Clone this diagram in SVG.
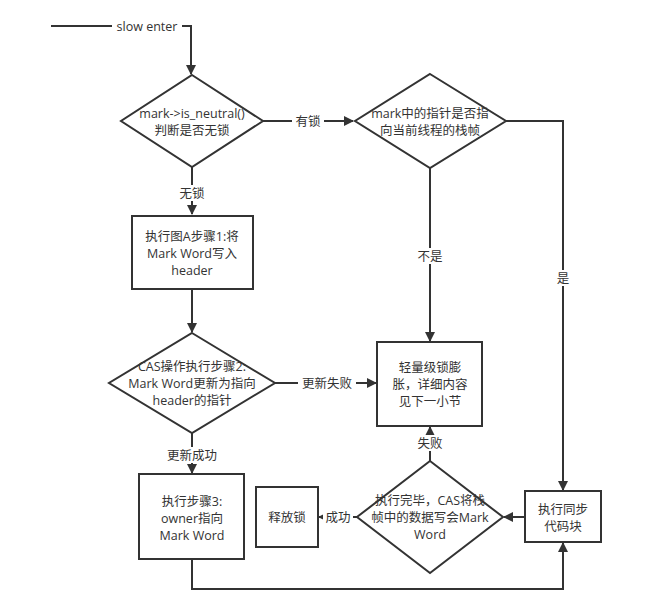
<svg xmlns="http://www.w3.org/2000/svg" width="661" height="616" viewBox="0 0 661 616">
<style>
.s{fill:#fff;stroke:#333;stroke-width:2}
.l{fill:none;stroke:#333;stroke-width:2}
text{font-family:"Open Sans","Noto Sans CJK SC",sans-serif;font-size:12.5px;fill:#333;text-anchor:middle;dominant-baseline:central}
.bg{fill:#fff}
</style>
<defs>
<marker id="a" viewBox="0 0 10 10" refX="9" refY="5" markerWidth="5" markerHeight="5" orient="auto" markerUnits="strokeWidth"><path d="M0,0 L10,5 L0,10 Z" fill="#333"/></marker>
</defs>
<rect width="661" height="616" fill="#fff"/>
<g id="connectors">
<path class="l" d="M51,26 H191 V74" marker-end="url(#a)"/>
<rect class="bg" x="112" y="18" width="70" height="16"/>
<text x="147" y="26">slow enter</text>
<path class="l" d="M263,121 H353" marker-end="url(#a)"/>
<rect class="bg" x="292" y="113" width="32" height="16"/>
<text x="308" y="121">有锁</text>
<path class="l" d="M192,167 V214" marker-end="url(#a)"/>
<rect class="bg" x="176" y="185" width="32" height="16"/>
<text x="192" y="193">无锁</text>
<path class="l" d="M192,289 V332" marker-end="url(#a)"/>
<path class="l" d="M275,383 H376" marker-end="url(#a)"/>
<rect class="bg" x="298" y="375" width="58" height="16"/>
<text x="327" y="383">更新失败</text>
<path class="l" d="M430,168 V341" marker-end="url(#a)"/>
<rect class="bg" x="414" y="248" width="32" height="16"/>
<text x="430" y="256">不是</text>
<path class="l" d="M506,121 H563 V490" marker-end="url(#a)"/>
<rect class="bg" x="552" y="270" width="22" height="16"/>
<text x="563" y="278">是</text>
<path class="l" d="M192,433 V473" marker-end="url(#a)"/>
<rect class="bg" x="163" y="447" width="58" height="16"/>
<text x="192" y="455">更新成功</text>
<path class="l" d="M525,517 H504" marker-end="url(#a)"/>
<path class="l" d="M430,461 V427" marker-end="url(#a)"/>
<rect class="bg" x="414" y="435" width="32" height="16"/>
<text x="430" y="443">失败</text>
<path class="l" d="M357,517 H319" marker-end="url(#a)"/>
<rect class="bg" x="323" y="509" width="30" height="16"/>
<text x="338" y="517">成功</text>
<path class="l" d="M192,559 V589 H563 V543" marker-end="url(#a)"/>
</g>
<g id="n1"><polygon class="s" points="192,75 263,121 192,167 121,121"/>
<text x="192" y="113">mark-&gt;is_neutral()</text><text x="192" y="130">判断是否无锁</text></g>
<g id="n2"><polygon class="s" points="430,74 506,121 430,168 355,121"/>
<text x="430" y="113">mark中的指针是否指</text><text x="430" y="130">向当前线程的栈帧</text></g>
<g id="n3"><rect class="s" x="132" y="216" width="121" height="73"/>
<text x="192" y="236">执行图A步骤1:将</text><text x="192" y="253">Mark Word写入</text><text x="192" y="270">header</text></g>
<g id="n4"><polygon class="s" points="192,333 275,383 192,433 109,383"/>
<text x="192" y="366">CAS操作执行步骤2:</text><text x="192" y="383">Mark Word更新为指向</text><text x="192" y="400">header的指针</text></g>
<g id="n5"><rect class="s" x="377" y="342" width="105" height="84"/>
<text x="430" y="367">轻量级锁膨</text><text x="430" y="384">胀，详细内容</text><text x="430" y="401">见下一小节</text></g>
<g id="n6"><rect class="s" x="525" y="491" width="76" height="51"/>
<text x="563" y="509">执行同步</text><text x="563" y="526">代码块</text></g>
<g id="n7"><polygon class="s" points="430,461 503,517 430,573 357,517"/>
<text x="430" y="500">执行完毕，CAS将栈</text><text x="430" y="517">帧中的数据写会Mark</text><text x="430" y="534">Word</text></g>
<g id="n8"><rect class="s" x="256" y="487" width="62" height="60"/>
<text x="287" y="517">释放锁</text></g>
<g id="n9"><rect class="s" x="139" y="474" width="105" height="85"/>
<text x="192" y="501">执行步骤3:</text><text x="192" y="518">owner指向</text><text x="192" y="535">Mark Word</text></g>
</svg>
